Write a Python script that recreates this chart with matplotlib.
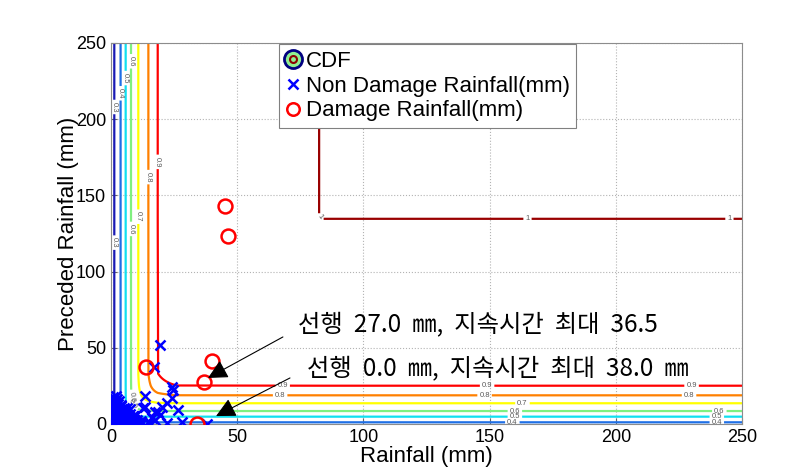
import numpy as np
import matplotlib
matplotlib.use('Agg')
import matplotlib.pyplot as plt
from matplotlib.lines import Line2D
from matplotlib.legend_handler import HandlerTuple

plt.rcParams['font.family'] = ['Liberation Sans', 'DejaVu Sans']
kr_font = ['Noto Sans CJK KR', 'DejaVu Sans']

# CDF contour levels and marginal knots (level -> mm)
cdf_levels = [0.3, 0.4, 0.5, 0.6, 0.7, 0.8, 0.9, 1.0]
rain_knots = [0, 1.3, 3.8, 5.8, 7.9, 10.8, 14.8, 18.5, 26, 83.6]
rain_probs = [0.25, 0.3, 0.4, 0.5, 0.6, 0.7, 0.8, 0.9, 0.995, 1.0]
prec_knots = [0, 1.1, 4.8, 8.5, 13.6, 18.8, 25.1, 33, 136.7]
prec_probs = [0.37, 0.4, 0.5, 0.6, 0.7, 0.8, 0.9, 0.995, 1.0]
theta = 8.0

# non damage rainfall (x = rainfall, y = preceded rainfall)
nd_x = [19.4, 16.9, 24.3, 24.7, 24.0, 22.0, 20.0, 26.7, 13.5, 13.5, 17.4, 19.4,
        28.0, 22.0, 37.9, 16.1, 14.8, 12.8, 18.7, 16.1, 17.4, 15.5,
        0.3, 0.8, 1.2, 1.6, 2.0, 2.4, 2.9, 3.3, 3.8, 4.2, 4.7, 5.1, 5.6, 6.0,
        6.5, 7.0, 7.5, 8.0, 8.6, 9.1, 9.7, 10.3, 11.0, 11.6, 0.5, 1.0, 1.8,
        2.6, 3.4, 4.3, 5.2, 6.1, 7.0, 7.9, 8.8, 9.6, 0.4, 1.2, 2.1, 3.0, 3.9,
        4.9, 5.8, 6.8, 7.7, 8.6, 0.7, 1.6, 2.5, 3.5, 4.5, 5.5, 6.4, 1.0, 2.0,
        3.1, 4.1, 5.0, 0.6, 1.7, 2.8, 3.8, 1.2, 2.3, 3.3, 0.9, 2.0, 10.2, 11.8,
        12.4, 9.0, 7.4, 6.2]
nd_y = [51.8, 37.6, 24.1, 22.3, 17.0, 13.6, 11.4, 9.2, 18.4, 11.4, 8.1, 5.9,
        1.5, 0.5, 0.3, 3.7, 1.5, 10.3, 8.1, 4.4, 2.6, 0.7,
        0.3, 1.1, 0.5, 1.8, 0.8, 2.4, 0.4, 1.4, 2.9, 0.6, 1.9, 0.9, 3.1, 0.3,
        1.6, 0.8, 2.2, 0.4, 1.2, 2.8, 0.6, 1.5, 0.3, 0.9, 3.6, 4.4, 3.9, 4.8,
        3.5, 4.2, 5.1, 3.8, 4.6, 3.4, 4.0, 2.9, 6.3, 7.1, 6.0, 6.9, 5.9, 7.4,
        6.5, 5.8, 6.8, 5.5, 8.8, 9.6, 8.4, 9.1, 8.0, 8.7, 7.9, 11.2, 12.0, 10.9,
        11.6, 10.4, 13.4, 14.1, 13.0, 12.5, 15.8, 16.5, 15.2, 17.8, 18.2, 2.4,
        1.8, 0.4, 5.4, 9.8, 10.6]

# damage rainfall
d_x = [13.8, 34.2, 36.9, 39.9, 45.2, 46.4]
d_y = [37.6, 0.0, 27.6, 41.5, 143.0, 123.4]

level_colors = ['#1a1ab4', '#1f6fe6', '#10e0f0', '#80f080', '#ffff00',
                '#ff8000', '#ff0000', '#990000']
level_text = ['0.3', '0.4', '0.5', '0.6', '0.7', '0.8', '0.9', '1']

# contour label spots
label_spots = [(1.3, 208), (1.3, 119), (3.8, 217), (5.8, 227), (7.9, 238),
               (14.8, 162), (18.5, 172), (10.8, 136), (7.9, 128),
               (68, 25.1), (149, 25.1), (230, 25.1), (67, 18.8), (148, 18.8),
               (229, 18.8), (163, 13.6), (160, 8.5), (241, 8.5), (160, 4.8),
               (240, 4.8), (159, 1.1), (240, 1.1), (83, 136), (165, 136.5),
               (245, 136.5), (9.5, 18), (7.5, 13), (5.5, 9), (4.0, 6)]


def main():
    gx = np.linspace(0, 250, 1001)
    gy = np.linspace(0, 250, 1001)
    X, Y = np.meshgrid(gx, gy)
    u = np.interp(X, rain_knots, rain_probs)
    v = np.interp(Y, prec_knots, prec_probs)
    F = (u ** -theta + v ** -theta - 1) ** (-1 / theta)

    lv = list(cdf_levels[:-1]) + [0.9999]
    fig = plt.figure(figsize=(8.01, 4.75), dpi=100)
    ax = fig.add_axes([0.1386, 0.1074, 0.7878, 0.8021])
    ax.grid(True, linestyle=':', color='0.7', lw=0.8)
    ax.set_axisbelow(True)

    cs = ax.contour(X, Y, F, levels=lv, colors=level_colors, linewidths=1.6)
    fmt = {l: t for l, t in zip(cs.levels, level_text)}
    ax.clabel(cs, manual=label_spots, fmt=fmt, fontsize=5.5, colors='0.35',
              inline=True, inline_spacing=2)

    ax.plot(nd_x, nd_y, 'x', color='#0000ff', ms=7, mew=1.8, zorder=5)
    ax.plot(d_x, d_y, 'o', mfc='none', mec='#ff0000', ms=10, mew=1.8, zorder=6)

    arrow = dict(arrowstyle='-|>,head_length=0.6,head_width=0.3', color='k',
                 lw=0.8, mutation_scale=20, shrinkA=0, shrinkB=0)
    ax.annotate('', xy=(38.4, 30.2), xytext=(68.1, 57.1), arrowprops=arrow, zorder=7)
    ax.annotate('', xy=(41.6, 5.2), xytext=(70.9, 30.2), arrowprops=arrow, zorder=7)
    ax.text(74.1, 65.6, '선행  27.0  ㎜,  지속시간  최대  36.5', fontsize=17.5,
            family=kr_font, va='center', ha='left', zorder=8)
    ax.text(77.7, 36.7, '선행  0.0  ㎜,  지속시간  최대  38.0  ㎜', fontsize=17.5,
            family=kr_font, va='center', ha='left', zorder=8)

    ax.set_xlim(0, 250)
    ax.set_ylim(0, 250)
    ax.set_xticks([0, 50, 100, 150, 200, 250])
    ax.set_yticks([0, 50, 100, 150, 200, 250])
    ax.tick_params(direction='in', length=4, labelsize=13, color='0.4')
    for s in ax.spines.values():
        s.set_color('0.55')
    ax.set_xlabel('Rainfall (mm)', fontsize=16, labelpad=0)
    ax.set_ylabel('Preceded Rainfall (mm)', fontsize=16, labelpad=-2)

    cdf_handle = (Line2D([], [], ls='none', marker='o', ms=13, mfc='#90ee90',
                         mec='#000080', mew=2),
                  Line2D([], [], ls='none', marker='o', ms=5, mfc='none',
                         mec='#8b0000', mew=1.5))
    nd_handle = Line2D([], [], ls='none', marker='x', color='#0000ff', ms=7, mew=1.8)
    d_handle = Line2D([], [], ls='none', marker='o', mfc='none', mec='#ff0000',
                      ms=9, mew=1.8)
    leg = ax.legend([cdf_handle, nd_handle, d_handle],
                    ['CDF', 'Non Damage Rainfall(mm)', 'Damage Rainfall(mm)'],
                    handler_map={tuple: HandlerTuple(ndivide=1, pad=0)},
                    loc='upper left', bbox_to_anchor=(0.266, 0.997),
                    borderaxespad=0, fontsize=16, fancybox=False,
                    handlelength=0.7, handletextpad=0.2, labelspacing=0.17,
                    borderpad=0.3, framealpha=1)
    leg.get_frame().set_edgecolor('0.5')
    leg.get_frame().set_linewidth(0.8)

    fig.savefig('out.png', dpi=100)


if __name__ == '__main__':
    main()
